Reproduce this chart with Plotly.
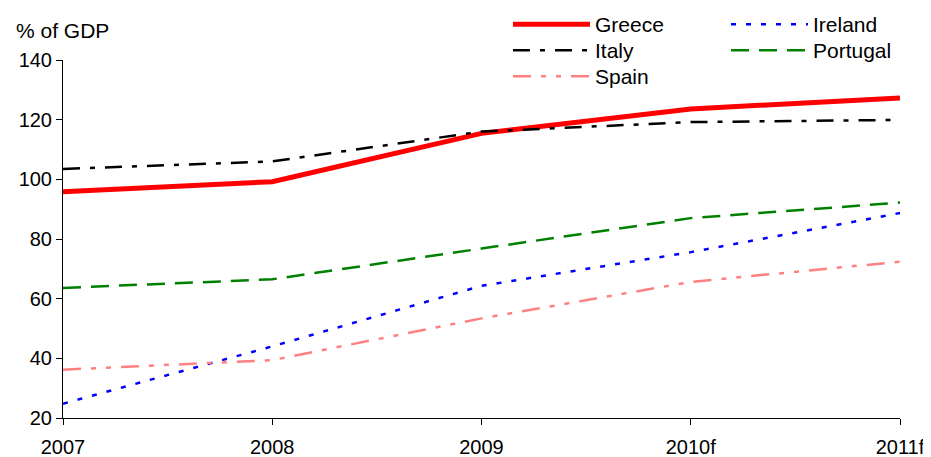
import plotly.graph_objects as go

years = ["2007", "2008", "2009", "2010f", "2011f"]
greece = [95.8, 99.2, 115.4, 123.6, 127.3]
ireland = [24.8, 44.0, 64.3, 75.6, 88.7]
italy = [103.5, 106.0, 116.0, 119.2, 119.9]
portugal = [63.6, 66.5, 76.8, 87.0, 92.2]
spain = [36.2, 39.4, 53.4, 65.6, 72.4]

y_ticks = [20, 40, 60, 80, 100, 120, 140]

FONT = "Liberation Sans, Arial, sans-serif"

# The page body has an 8px margin, so the figure is sized/placed to compensate.
W, H = 923, 449
L, R, T, B = 55, 31, 52, 39
PW, PH = W - L - R, H - T - B


def px_x(px):
    return (px - L) / PW


def px_y(py):
    return 1 + (T - py) / PH


fig = go.Figure()

series = [
    ("Greece", greece, "#FF0000", 5, "solid", "legend", 500, -4),
    ("Ireland", ireland, "#0000FF", 2.5, "5px,10px", "legend2", 718, -4),
    ("Italy", italy, "#000000", 2.5, "17px,10px,5px,10px", "legend3", 500, 22),
    ("Portugal", portugal, "#008000", 2.5, "18px,10px", "legend4", 718, 22),
    ("Spain", spain, "#FF8080", 2.5, "18px,10px,5px,10px,5px,10px", "legend5", 500, 48),
]

legends = {}
for name, vals, color, width, dash, leg, lx, ly in series:
    fig.add_trace(go.Scatter(
        x=years, y=vals, name=name, mode="lines",
        line=dict(color=color, width=width, dash=dash),
        legend=leg,
    ))
    legends[leg] = dict(
        font=dict(family=FONT, size=21, color="#000000"),
        bgcolor="rgba(0,0,0,0)",
        borderwidth=0,
        orientation="v",
        yanchor="top",
        xanchor="left",
        itemwidth=77,
        x=px_x(lx), y=px_y(ly),
    )

fig.update_layout(
    width=W, height=H,
    paper_bgcolor="white", plot_bgcolor="white",
    margin=dict(l=L, r=R, t=T, b=B, autoexpand=False),
    font=dict(family=FONT, size=20, color="#000000"),
    showlegend=True,
    xaxis=dict(
        type="category", range=[0, 4],
        showgrid=False, zeroline=False,
        showline=True, linecolor="#000000", linewidth=1,
        ticks="outside", ticklen=6, tickcolor="#000000", tickwidth=1,
        ticklabelstandoff=5,
        tickfont=dict(family=FONT, size=20, color="#000000"),
    ),
    xaxis2=dict(
        overlaying="x", anchor="y", range=[0, 4], dtick=1, tick0=0,
        showgrid=False, zeroline=False, showline=False,
        ticks="inside", ticklen=6, tickcolor="#000000", tickwidth=1,
        showticklabels=False, side="bottom",
    ),
    yaxis=dict(
        range=[20, 140], tickvals=y_ticks,
        showgrid=False, zeroline=False,
        showline=True, linecolor="#000000", linewidth=1,
        ticks="outside", ticklen=6, tickcolor="#000000", tickwidth=1,
        tickfont=dict(family=FONT, size=20, color="#000000"),
    ),
    annotations=[dict(
        text="% of GDP", xref="paper", yref="paper",
        x=px_x(6), y=px_y(23),
        xanchor="left", yanchor="middle", showarrow=False,
        font=dict(family=FONT, size=21, color="#000000"),
    )],
    **legends,
)

fig.write_html("out.html")
